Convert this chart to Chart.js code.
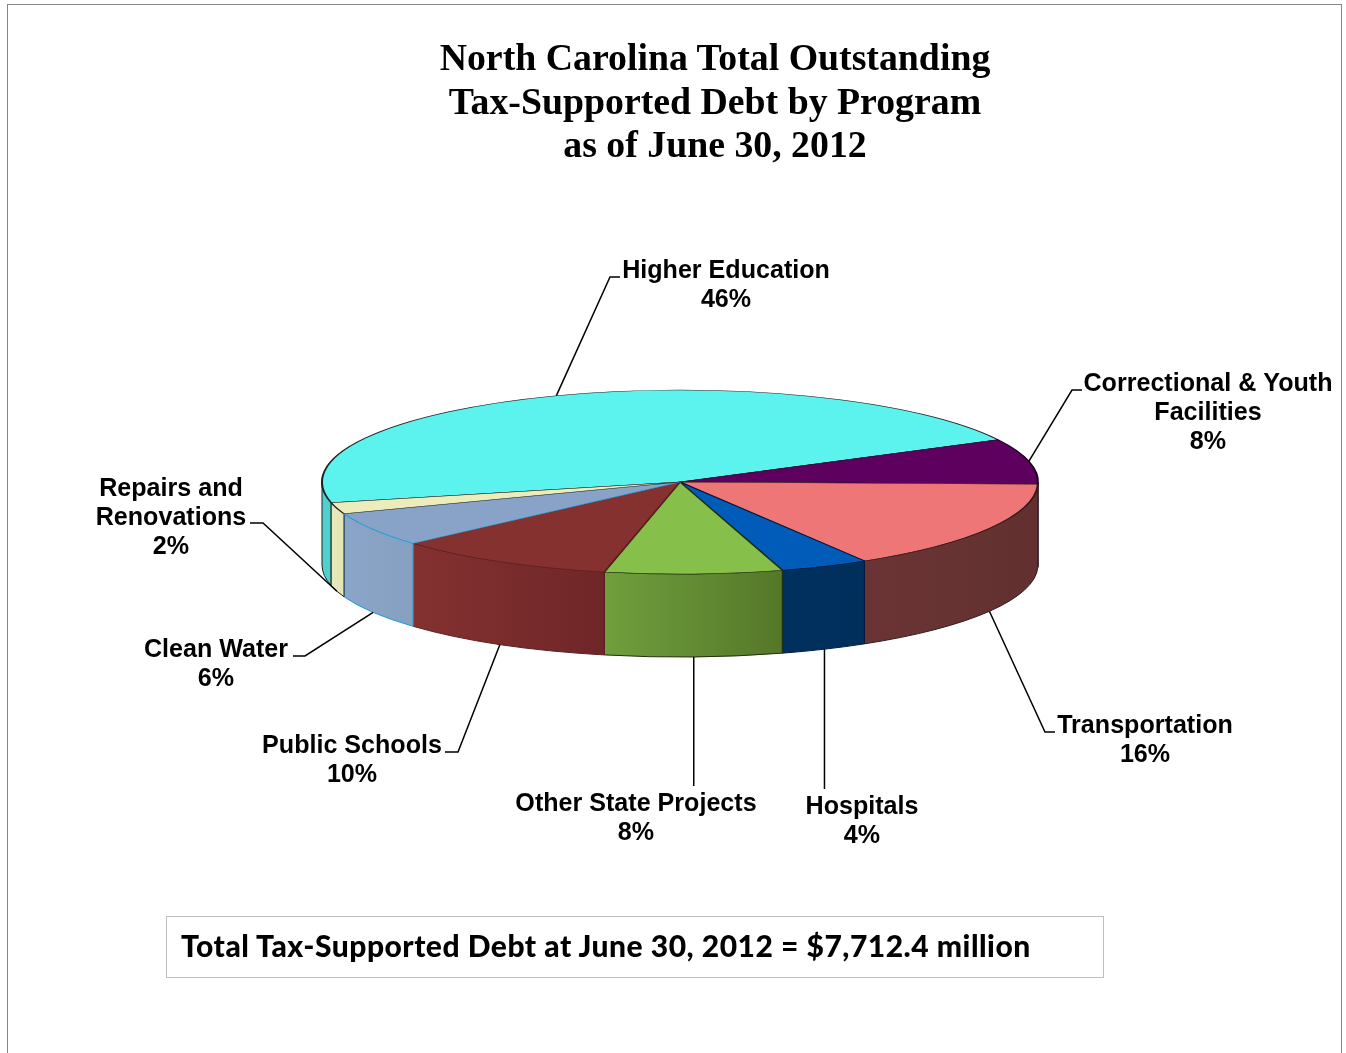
<!DOCTYPE html>
<html>
<head>
<meta charset="utf-8">
<title>North Carolina Tax-Supported Debt by Program</title>
<script src="https://cdn.jsdelivr.net/npm/chart.js@4"></script>
<style>
    html, body { margin: 0; background: #fff; overflow: hidden; }
    #page { position: relative; width: 1346px; height: 1053px; }
    #frame { position: absolute; left: 7px; top: 4px; width: 1333px; height: 1049px; border: 1px solid #868686; border-bottom: 0; }
    #chart { position: absolute; left: 0; top: 0; }
    #title { position: absolute; left: 315px; top: 36px; width: 800px; text-align: center; font: bold 37.8px/43.5px "Liberation Serif", serif; color: #000; }
    #total { position: absolute; left: 166px; top: 916px; width: 922px; height: 60px; padding-left: 14px; border: 1px solid #bfbfbf; font: 900 30px/57px Lato, sans-serif; letter-spacing: 0.5px; color: #000; white-space: nowrap; }
</style>
</head>
<body>
<div id="page">
    <div id="frame"></div>
    <canvas id="chart" width="1346" height="1053"></canvas>
    <div id="title">North Carolina Total Outstanding<br>Tax-Supported Debt by Program<br>as of June 30, 2012</div>
    <div id="total">Total Tax-Supported Debt at June 30, 2012 = $7,712.4 million</div>
</div>
<script>
const categories = ['Higher Education', 'Correctional & Youth Facilities', 'Transportation', 'Hospitals',
    'Other State Projects', 'Public Schools', 'Clean Water', 'Repairs and Renovations'];
const percents = [46, 8, 16, 4, 8, 10, 6, 2];

// wrapped label rows, same order as categories
const labelRows = [['Higher Education'], ['Correctional & Youth', 'Facilities'], ['Transportation'], ['Hospitals'],
    ['Other State Projects'], ['Public Schools'], ['Clean Water'], ['Repairs and', 'Renovations']];

const topColors = ['#5cf2ee', '#5e005e', '#ee7676', '#005cb8', '#86bf4a', '#853130', '#88a3c7', '#ededbb'];
const sideLeft = ['#4fd0cf', '#5e005e', '#6b3434', '#00305f', '#709f3d', '#843130', '#8aa5c8', '#e8e8b8'];
const sideRight = ['#4fd0cf', '#5e005e', '#623030', '#002f5c', '#557729', '#6f2628', '#86a0c0', '#e4e4b4'];
const edgeColors = ['#202020', '#1a001a', '#301818', '#001a40', '#1f2f10', '#5c1e1e', '#1e9ed8', '#202020'];

// label placement: text centre, first row, and the leader's elbow and end
const labelSpots = [
    { x: 726, y: 278, elbow: [610, 277], end: [620, 277] },
    { x: 1208, y: 391, elbow: [1072, 390], end: [1082, 390] },
    { x: 1145, y: 733, elbow: [1045, 732], end: [1055, 732] },
    { x: 862, y: 814, end: [null, 789] },
    { x: 636, y: 811, end: [null, 786] },
    { x: 352, y: 753, elbow: [458, 752], end: [445, 752] },
    { x: 216, y: 657, elbow: [305, 656], end: [293, 656] },
    { x: 171, y: 496, elbow: [263, 523], end: [250, 523] }
];

const tilt = 0.257;    // flattening of the pie's top face
const depth = 83;      // height of the rim

// Draws the rim below the flattened pie
function drawRim(chart, arc, i) {
    const ctx = chart.ctx;
    const ry = arc.outerRadius * tilt;
    [-2, 0, 2].forEach(turn => {
        const a0 = Math.max(arc.startAngle + turn * Math.PI, 0);
        const a1 = Math.min(arc.endAngle + turn * Math.PI, Math.PI);
        if (a1 <= a0) return;
        const grad = ctx.createLinearGradient(arc.x + arc.outerRadius * Math.cos(a1), 0, arc.x + arc.outerRadius * Math.cos(a0), 0);
        grad.addColorStop(0, sideLeft[i]);
        grad.addColorStop(1, sideRight[i]);
        ctx.beginPath();
        ctx.ellipse(arc.x, arc.y, arc.outerRadius, ry, 0, a0, a1);
        ctx.ellipse(arc.x, arc.y + depth, arc.outerRadius, ry, 0, a1, a0, true);
        ctx.closePath();
        ctx.fillStyle = grad;
        ctx.fill();
        ctx.strokeStyle = edgeColors[i];
        ctx.lineWidth = 1;
        ctx.stroke();
    });
}

function drawLabel(chart, arc, i) {
    const ctx = chart.ctx;
    const spot = labelSpots[i];
    const mid = (arc.startAngle + arc.endAngle) / 2;
    const sx = arc.x + arc.outerRadius * Math.cos(mid);
    const sy = arc.y + arc.outerRadius * tilt * Math.sin(mid) + (Math.sin(mid) > 0 ? depth : 0);

    ctx.beginPath();
    ctx.moveTo(sx, sy);
    if (spot.elbow) ctx.lineTo(spot.elbow[0], spot.elbow[1]);
    ctx.lineTo(spot.end[0] === null ? sx : spot.end[0], spot.end[1]);
    ctx.strokeStyle = '#000';
    ctx.lineWidth = 1.5;
    ctx.stroke();

    ctx.fillStyle = '#000';
    ctx.font = 'bold 25.1px "Liberation Sans", Arial, sans-serif';
    ctx.textAlign = 'center';
    ctx.textBaseline = 'alphabetic';
    labelRows[i].concat(percents[i] + '%').forEach((row, n) => ctx.fillText(row, spot.x, spot.y + n * 29));
}

const pie3d = {
    id: 'pie3d',
    beforeDatasetsDraw(chart) {
        const arcs = chart.getDatasetMeta(0).data;
        arcs.forEach((arc, i) => drawRim(chart, arc, i));
        const ctx = chart.ctx;
        ctx.save();
        ctx.translate(0, arcs[0].y);
        ctx.scale(1, tilt);
        ctx.translate(0, -arcs[0].y);
    },
    afterDatasetsDraw(chart) {
        chart.ctx.restore();
        chart.getDatasetMeta(0).data.forEach((arc, i) => drawLabel(chart, arc, i));
    }
};

new Chart(document.getElementById('chart'), {
    type: 'pie',
    data: {
        labels: categories,
        datasets: [{
            data: percents,
            backgroundColor: topColors,
            borderColor: edgeColors,
            borderWidth: 2,
            clip: false
        }]
    },
    options: {
        responsive: false,
        animation: false,
        rotation: -103,
        radius: 358,
        layout: { padding: { left: 14, bottom: 89 } },
        events: [],
        plugins: { legend: { display: false }, tooltip: { enabled: false } }
    },
    plugins: [pie3d]
});
</script>
</body>
</html>
